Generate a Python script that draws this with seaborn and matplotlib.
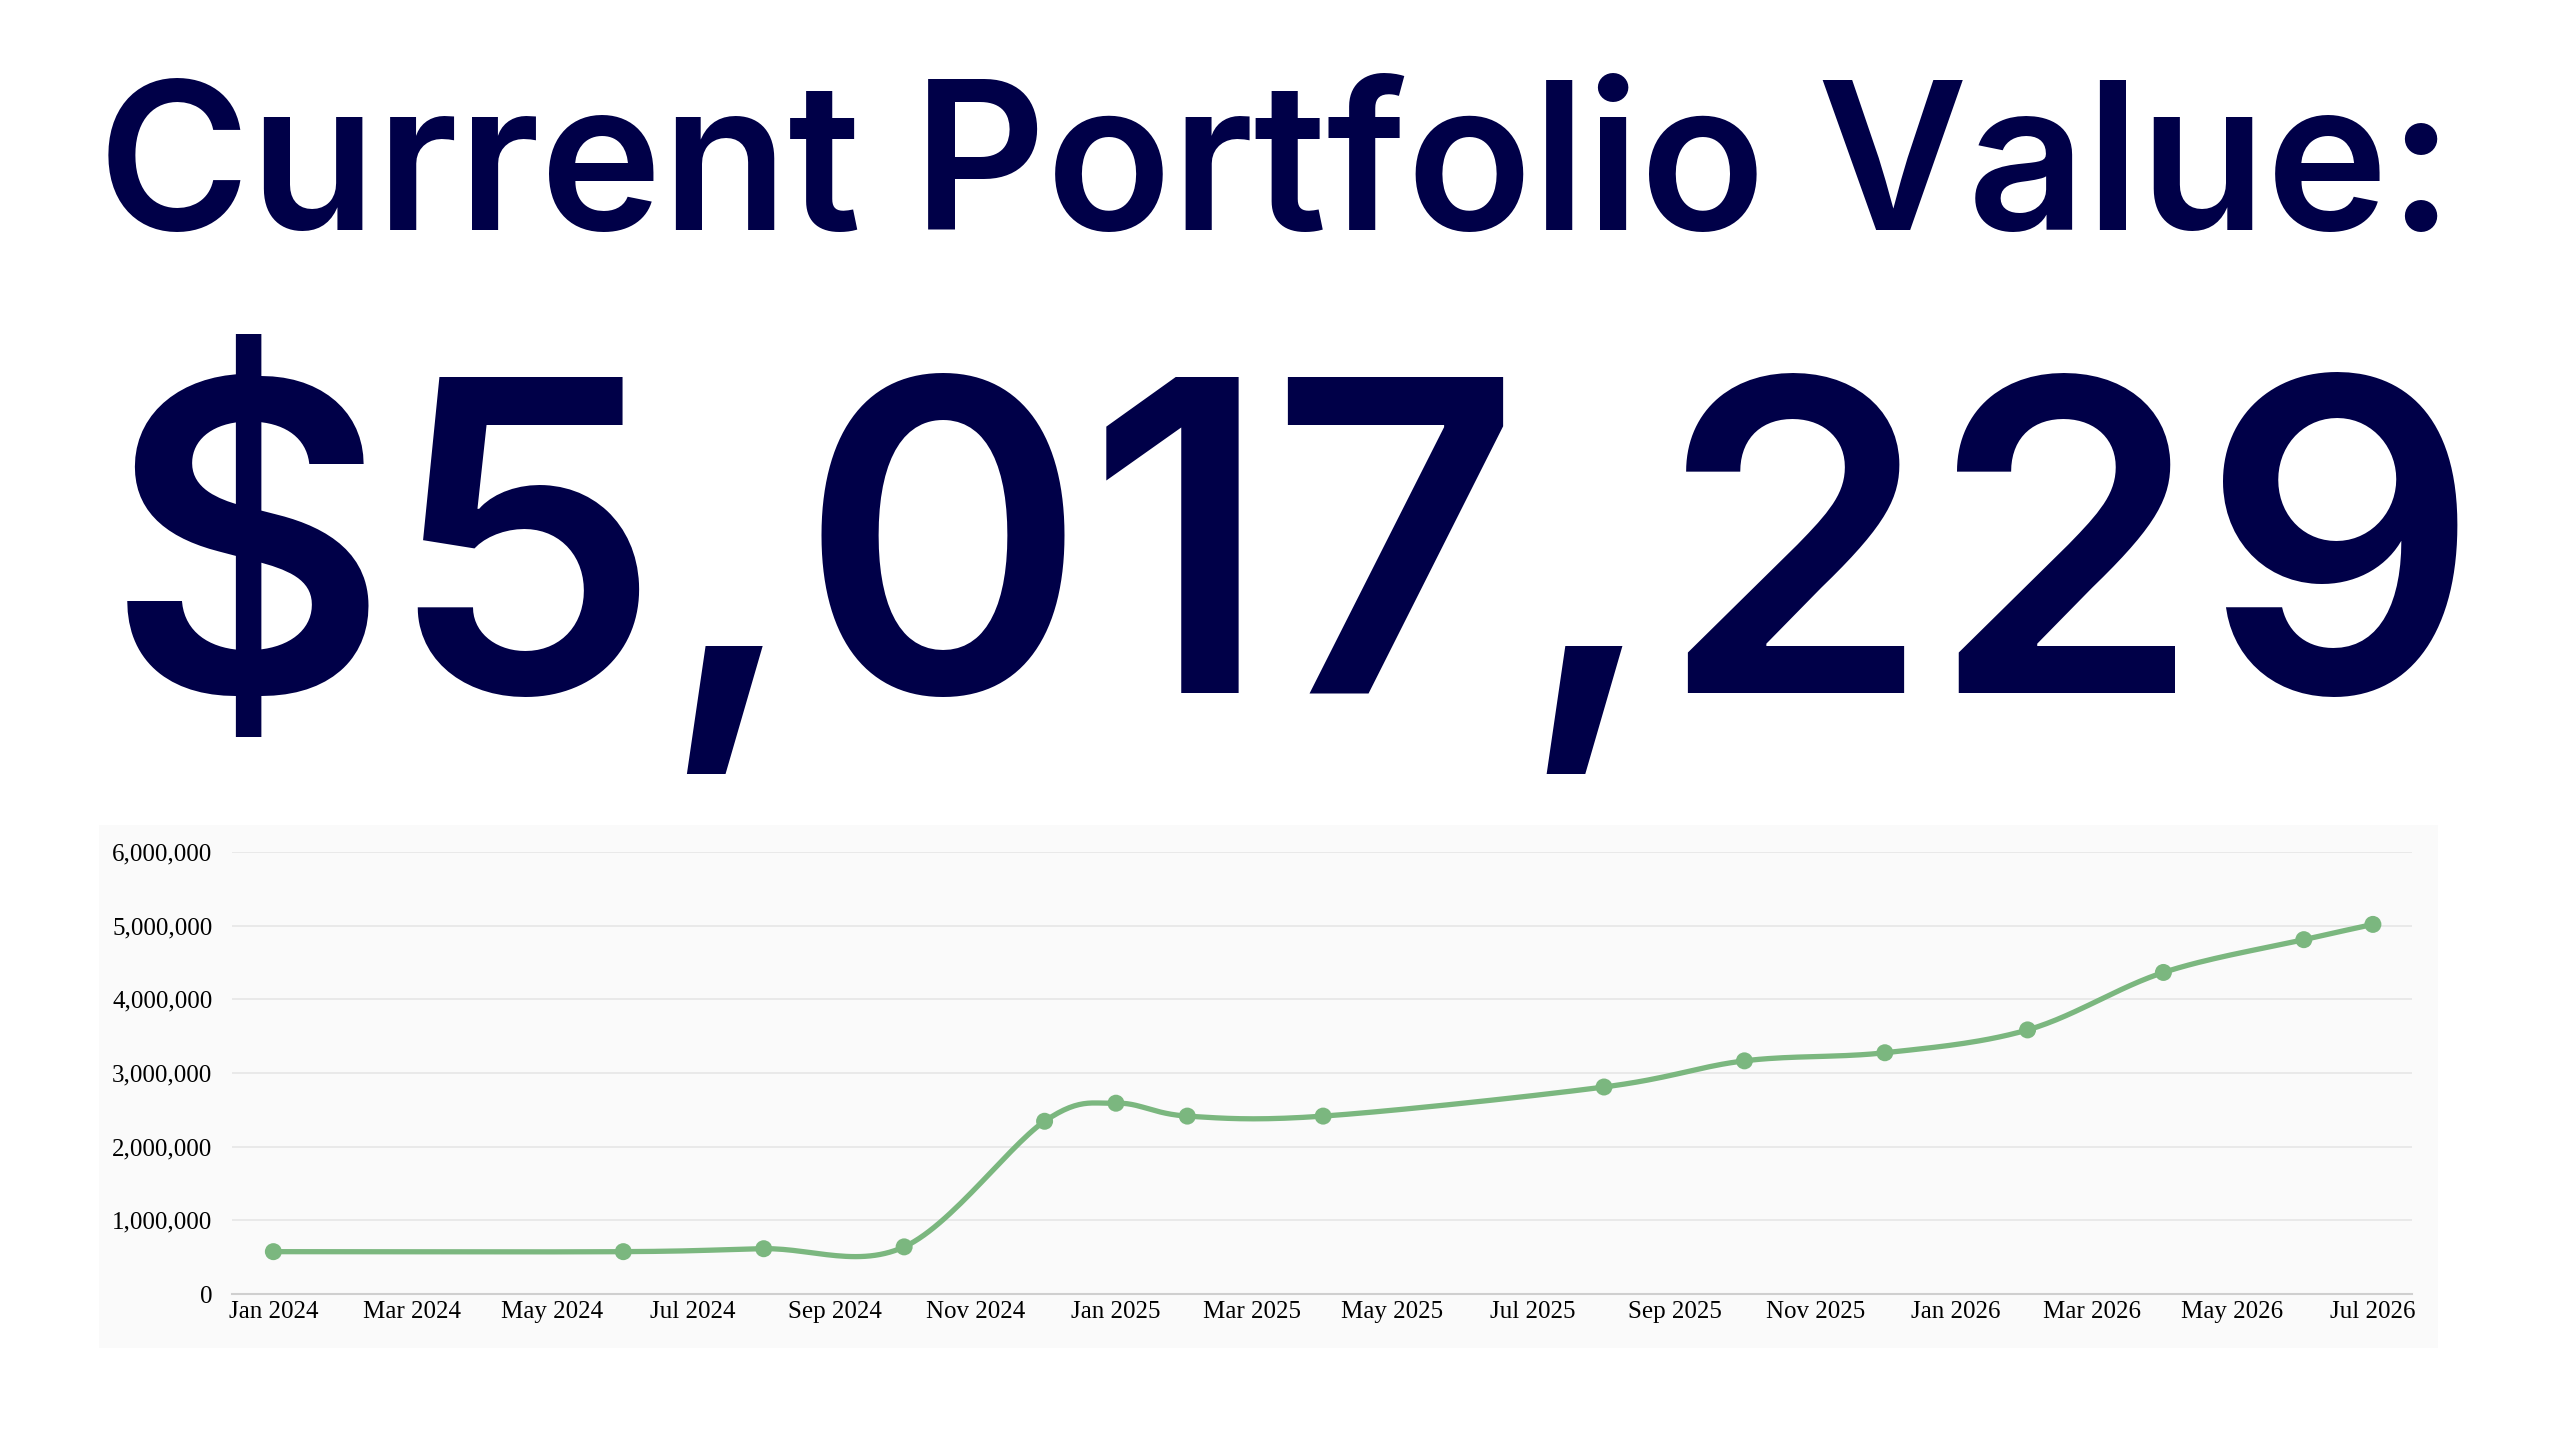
import numpy as np
import pandas as pd
import matplotlib
matplotlib.use("Agg")
from matplotlib import pyplot as plt
import matplotlib.dates as mdates
from matplotlib.patches import Rectangle
from matplotlib.ticker import FuncFormatter
import seaborn as sns

# values
dates = ["2024-01-01", "2024-06-01", "2024-08-01", "2024-10-01", "2024-12-01",
         "2025-01-01", "2025-02-01", "2025-04-01", "2025-08-01", "2025-10-01",
         "2025-12-01", "2026-02-01", "2026-04-01", "2026-06-01", "2026-07-01"]
values = [575000, 575000, 615000, 640000, 2345000,
          2590000, 2415000, 2415000, 2810000, 3165000,
          3275000, 3585000, 4365000, 4810000, 5017229]
title_text = "Current Portfolio Value:"
value_text = "$5,017,229"

navy = "#000048"
green = "#7bb77f"

df = pd.DataFrame({"date": pd.to_datetime(dates), "value": values})


def smooth(x, y, steps=30):
    # catmull-rom style curve through the points
    x = np.asarray(x, float)
    y = np.asarray(y, float)
    px = np.concatenate([[2 * x[0] - x[1]], x, [2 * x[-1] - x[-2]]])
    py = np.concatenate([[2 * y[0] - y[1]], y, [2 * y[-1] - y[-2]]])
    xs, ys = [], []
    t = np.linspace(0, 1, steps)
    for i in range(1, len(px) - 2):
        for p, out in ((px, xs), (py, ys)):
            p0, p1, p2, p3 = p[i - 1], p[i], p[i + 1], p[i + 2]
            m1 = (p2 - p0) / 2
            m2 = (p3 - p1) / 2
            h00 = 2 * t**3 - 3 * t**2 + 1
            h10 = t**3 - 2 * t**2 + t
            h01 = -2 * t**3 + 3 * t**2
            h11 = t**3 - t**2
            out.extend(h00 * p1 + h10 * m1 + h01 * p2 + h11 * m2)
    return np.array(xs), np.array(ys)


sns.set_theme(style="white")
plt.rcParams["font.family"] = ["Liberation Serif", "DejaVu Serif"]

fig = plt.figure(figsize=(25.6, 14.37), dpi=100)
fig.patch.set_facecolor("white")

# light panel behind the chart
fig.patches.append(Rectangle((0.0387, 0.0619), 0.9137, 0.364, transform=fig.transFigure,
                             facecolor="#fafafa", edgecolor="none", zorder=-5))

fig.text(0.4985, 0.840, title_text, ha="center", va="baseline",
         fontsize=148.5, fontweight="semibold", color=navy, family=["Inter", "DejaVu Sans"])
fig.text(0.505, 0.518, value_text, ha="center", va="baseline",
         fontsize=313, fontweight="semibold", color=navy, family=["Inter", "DejaVu Sans"])

ax = fig.add_axes([0.0906, 0.0995, 0.8516, 0.3076])
ax.set_zorder(2)
ax.set_facecolor("none")

xnum = mdates.date2num(df["date"])
sx, sy = smooth(xnum, df["value"])
curve = pd.DataFrame({"x": mdates.num2date(sx), "y": sy})
sns.lineplot(data=curve, x="x", y="y", sort=False, color=green, linewidth=3.8, ax=ax)
sns.scatterplot(data=df, x="date", y="value", color=green, s=150, edgecolor="none", ax=ax, zorder=3)

ax.set_ylim(0, 6000000)
ax.set_yticks(np.arange(0, 6000001, 1000000))
ax.yaxis.set_major_formatter(FuncFormatter(lambda v, p: f"{int(v):,}"))
ax.set_xlim(pd.Timestamp("2023-12-14"), pd.Timestamp("2026-07-18"))
ax.xaxis.set_major_locator(mdates.MonthLocator(bymonth=[1, 3, 5, 7, 9, 11]))
ax.xaxis.set_major_formatter(mdates.DateFormatter("%b %Y"))

ax.grid(axis="y", color="#e8e8e8", linewidth=1.3)
ax.grid(axis="x", visible=False)
for s in ["top", "right", "left"]:
    ax.spines[s].set_visible(False)
ax.spines["bottom"].set_color("#cfcfcf")
ax.spines["bottom"].set_linewidth(1.5)
ax.tick_params(axis="y", length=0, pad=14, labelsize=18, labelcolor="black")
ax.tick_params(axis="x", length=0, pad=5, labelsize=18, labelcolor="black")
ax.set_xlabel("")
ax.set_ylabel("")

fig.savefig("out.png", dpi=100)
